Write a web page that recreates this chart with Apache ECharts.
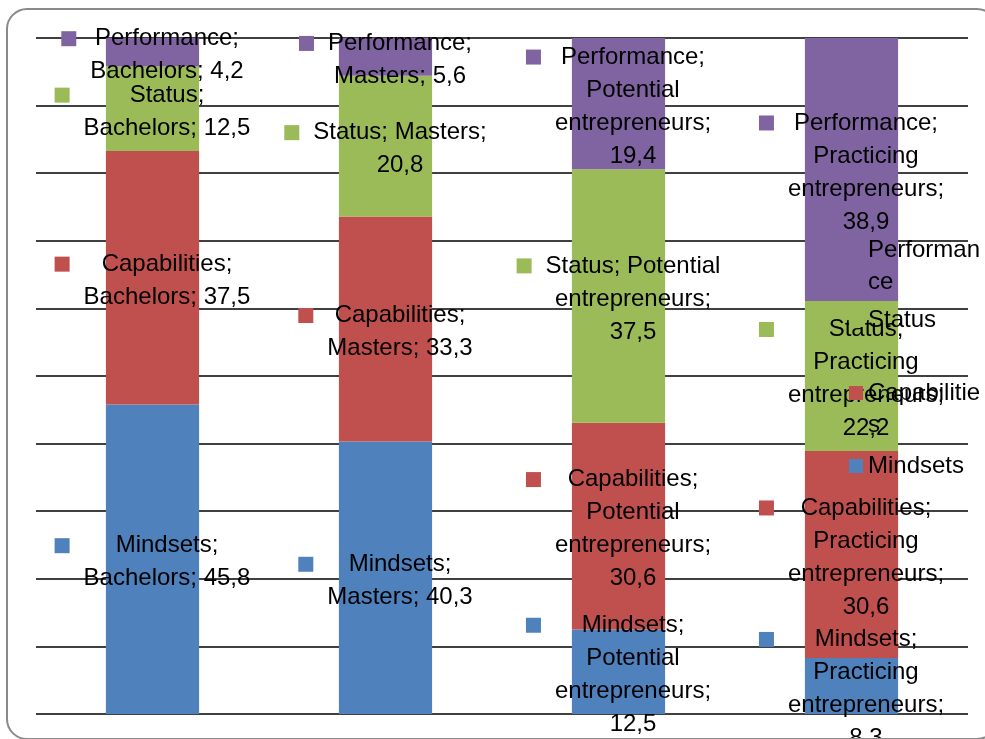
<!DOCTYPE html>
<html>
<head>
<meta charset="utf-8">
<script src="https://cdn.jsdelivr.net/npm/echarts@6/dist/echarts.min.js"></script>
<style>
  html, body { margin: 0; padding: 0; background: #ffffff; }
  #chart { width: 985px; height: 739px; }
</style>
</head>
<body>
<div id="chart"></div>
<script>
// Groups along the category axis
const categories = ['Bachelors', 'Masters', 'Potential entrepreneurs', 'Practicing entrepreneurs'];
// Stack components, bottom to top
const seriesNames = ['Mindsets', 'Capabilities', 'Status', 'Performance'];
const mindsetsValues = [45.8, 40.3, 12.5, 8.3];
const capabilitiesValues = [37.5, 33.3, 30.6, 30.6];
const statusValues = [12.5, 20.8, 37.5, 22.2];
const performanceValues = [4.2, 5.6, 19.4, 38.9];
// Percentage scale of the value axis
const yTicks = [0, 10, 20, 30, 40, 50, 60, 70, 80, 90, 100];

const seriesValues = [mindsetsValues, capabilitiesValues, statusValues, performanceValues];
const colors = ['#4F81BD', '#C0504D', '#9BBB59', '#8064A2'];

const FONT_FAMILY = '"Liberation Sans", Arial, sans-serif';
const FONT_SIZE = 24;
const LINE_H = 33;
const WRAP_WIDTH = 186;
const KEY = 15;
const KEY_GAP = 14;
const LEGEND_KEY = 14;

const measureCtx = document.createElement('canvas').getContext('2d');
measureCtx.font = FONT_SIZE + 'px ' + FONT_FAMILY;

// Greedy word wrap on measured widths
function wrapWords(text, maxWidth) {
  const words = text.split(' ');
  const lines = [];
  let cur = '';
  for (const w of words) {
    const attempt = cur ? cur + ' ' + w : w;
    if (cur && measureCtx.measureText(attempt).width > maxWidth) {
      lines.push(cur);
      cur = w;
    } else {
      cur = attempt;
    }
  }
  if (cur) lines.push(cur);
  return lines;
}

function fmtNumber(v) {
  return v.toFixed(1).replace('.', ',');
}

// Data label: colour key beside the first line, wrapped text centred to its right
function labelFor(color) {
  return {
    show: true,
    position: 'inside',
    offset: [0, 3],
    color: '#000',
    textBorderWidth: 0,
    fontFamily: FONT_FAMILY,
    fontSize: FONT_SIZE,
    lineHeight: LINE_H,
    formatter: function (p) {
      const text = p.seriesName + '; ' + p.name + '; ' + fmtNumber(p.value);
      const lines = wrapWords(text, WRAP_WIDTH);
      return lines.map(function (ln, i) {
        return (i === 0 ? '{k|}{g|}' : '{s|}') + '{t|' + ln + '}';
      }).join('\n');
    },
    rich: {
      k: { width: KEY, height: KEY, backgroundColor: color, align: 'left', lineHeight: LINE_H },
      g: { width: KEY_GAP, align: 'left', lineHeight: LINE_H },
      s: { width: KEY + KEY_GAP, align: 'left', lineHeight: LINE_H },
      t: {
        align: 'center', color: '#000', fontFamily: FONT_FAMILY, fontSize: FONT_SIZE,
        lineHeight: LINE_H, textBorderWidth: 0
      }
    }
  };
}

const series = seriesNames.map(function (name, i) {
  return {
    name: name,
    type: 'bar',
    stack: 'total',
    barWidth: '40%',
    itemStyle: { color: colors[i] },
    label: labelFor(colors[i]),
    emphasis: { disabled: true },
    data: seriesValues[i]
  };
});

// Legend entries, top to bottom, each placed on its own.
// Wrapped entries get an empty leading line so the key sits beside the first line.
const legendTops = { Performance: 202, Status: 304, Capabilities: 345, Mindsets: 450 };
const twoLineItems = { Performance: true, Capabilities: true };
const legends = seriesNames.slice().reverse().map(function (name) {
  return {
    data: [name],
    left: 849,
    top: legendTops[name],
    orient: 'vertical',
    padding: 0,
    itemGap: 0,
    itemWidth: LEGEND_KEY,
    itemHeight: LEGEND_KEY,
    icon: 'rect',
    selectedMode: false,
    formatter: function (n) { return twoLineItems[n] ? '\n' + n : n; },
    textStyle: {
      color: '#000',
      fontFamily: FONT_FAMILY,
      fontSize: FONT_SIZE,
      lineHeight: 32,
      width: 118,
      overflow: 'breakAll'
    }
  };
});

const chart = echarts.init(document.getElementById('chart'), null, { renderer: 'canvas' });
chart.setOption({
  animation: false,
  backgroundColor: '#ffffff',
  color: colors,
  grid: { left: 36, right: 17, top: 38, bottom: 25 },
  legend: legends,
  xAxis: {
    type: 'category',
    data: categories,
    axisLine: { show: false },
    axisTick: { show: false },
    axisLabel: { show: false },
    splitLine: { show: false }
  },
  yAxis: {
    type: 'value',
    min: yTicks[0],
    max: yTicks[yTicks.length - 1],
    interval: yTicks[1] - yTicks[0],
    axisLine: { show: false },
    axisTick: { show: false },
    axisLabel: { show: false },
    splitLine: { show: true, lineStyle: { color: '#000', width: 1.5 } }
  },
  series: series,
  graphic: [{
    type: 'rect',
    silent: true,
    z: 100,
    shape: { x: 7, y: 9, width: 990, height: 730, r: 20 },
    style: { fill: 'none', stroke: '#8a8a8a', lineWidth: 2 }
  }]
});
</script>
</body>
</html>
